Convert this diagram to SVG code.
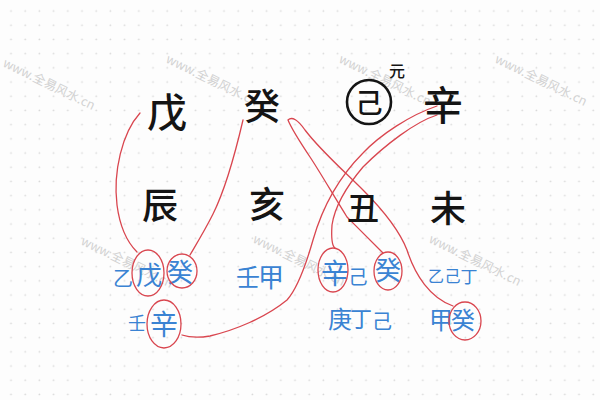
<svg xmlns="http://www.w3.org/2000/svg" width="600" height="400" viewBox="0 0 600 400">
  <defs>
    <pattern id="dots" patternUnits="userSpaceOnUse" x="4" y="4" width="14.2" height="14.2">
      <circle cx="7" cy="7" r="0.9" fill="#dadada"/>
    </pattern>
    <style>
      .k { font-family: "Noto Sans CJK SC", "Noto Sans CJK JP", sans-serif; fill: #141414; text-anchor: middle; font-weight: 500; }
      .b { font-family: "Noto Sans CJK SC", "Noto Sans CJK JP", sans-serif; fill: #3a83d3; text-anchor: middle; }
      .wm { font-family: "Noto Sans CJK SC", "Liberation Sans", sans-serif; font-size: 12.5px; fill: #d2d2d2; }
      .r { fill: none; stroke: #d9464f; stroke-width: 1.3; stroke-linecap: round; }
    </style>
  </defs>
  <rect width="600" height="400" fill="#fdfdfd"/>
  <rect width="600" height="400" fill="url(#dots)"/>

  <g id="watermarks">
    <text class="wm" transform="translate(2,66) rotate(26)">www.全易风水.cn</text>
    <text class="wm" transform="translate(165,62) rotate(26)">www.全易风水.cn</text>
    <text class="wm" transform="translate(338,62) rotate(26)">www.全易风水.cn</text>
    <text class="wm" transform="translate(494,62) rotate(26)">www.全易风水.cn</text>
    <text class="wm" transform="translate(80,244) rotate(26)">www.全易风水.cn</text>
    <text class="wm" transform="translate(252,242) rotate(26)">www.全易风水.cn</text>
    <text class="wm" transform="translate(428,242) rotate(26)">www.全易风水.cn</text>
  </g>

  <g id="connectors">
    <path class="r" d="M140,113 C122,133 113,172 117,205 C120,228 128,243 137,252"/>
    <path class="r" d="M243,120 C236,150 226,188 213,214 C205,230 197,243 190,255"/>
    <path class="r" d="M383,253 C375,245 360,230 347,217 C335,198 320,172 310,157 C300,142 292,130 288,120 C292,116 298,120 305,130 C320,150 345,172 363,190 C385,212 400,232 407,250 C415,275 430,298 453,306"/>
    <path class="r" d="M437,115 C415,122 385,145 363,167 C346,187 335,205 332,225 C331,240 332,246 335,248"/>
    <path class="r" d="M437,106 C410,115 380,135 363,153 C340,176 323,205 313,240 C305,268 296,290 287,300 C265,318 235,330 210,336 C198,338 188,337 182,335"/>
  </g>

  <g id="stem-wu"><text class="k" x="167" y="127" font-size="40">戊</text></g>
  <g id="stem-gui"><text class="k" x="262" y="120" font-size="36">癸</text></g>
  <g id="stem-ji">
    <circle cx="369" cy="102" r="22" fill="none" stroke="#141414" stroke-width="2.6"/>
    <text class="k" x="369" y="113" font-size="27">己</text>
    <text class="k" x="397" y="77" font-size="16">元</text>
  </g>
  <g id="stem-xin"><text class="k" x="443" y="120" font-size="40">辛</text></g>

  <g id="branch-chen"><text class="k" x="160" y="219" font-size="36">辰</text></g>
  <g id="branch-hai"><text class="k" x="267" y="218" font-size="36">亥</text></g>
  <g id="branch-chou"><text class="k" x="363" y="220" font-size="32">丑</text></g>
  <g id="branch-wei"><text class="k" x="448" y="222" font-size="36">未</text></g>

  <g id="hidden-chen">
    <text class="b" x="123" y="286" font-size="20">乙</text>
    <text class="b" x="149" y="285" font-size="26">戊</text>
    <text class="b" x="180" y="282" font-size="26">癸</text>
    <text class="b" x="137" y="330" font-size="18">壬</text>
    <text class="b" x="164" y="335" font-size="28">辛</text>
    <ellipse class="r" cx="148" cy="273" rx="16" ry="23"/>
    <ellipse class="r" cx="182" cy="271" rx="15" ry="17"/>
    <ellipse class="r" cx="164" cy="324" rx="17" ry="24"/>
  </g>
  <g id="hidden-hai">
    <text class="b" x="248" y="286" font-size="24">壬</text>
    <text class="b" x="271" y="287" font-size="26">甲</text>
  </g>
  <g id="hidden-chou">
    <text class="b" x="335" y="284" font-size="28">辛</text>
    <text class="b" x="358" y="284" font-size="19">己</text>
    <text class="b" x="388" y="280" font-size="26">癸</text>
    <text class="b" x="340" y="328" font-size="24">庚</text>
    <text class="b" x="361" y="327" font-size="22">丁</text>
    <text class="b" x="382" y="329" font-size="20">己</text>
    <ellipse class="r" cx="333" cy="270" rx="15" ry="22"/>
    <ellipse class="r" cx="388" cy="271" rx="14" ry="19"/>
  </g>
  <g id="hidden-wei">
    <text class="b" x="436" y="282" font-size="16">乙</text>
    <text class="b" x="452.5" y="282" font-size="16">己</text>
    <text class="b" x="469" y="283" font-size="17">丁</text>
    <text class="b" x="441" y="329" font-size="24">甲</text>
    <text class="b" x="463" y="329" font-size="24">癸</text>
    <ellipse class="r" cx="465" cy="321" rx="16" ry="19"/>
  </g>
</svg>
